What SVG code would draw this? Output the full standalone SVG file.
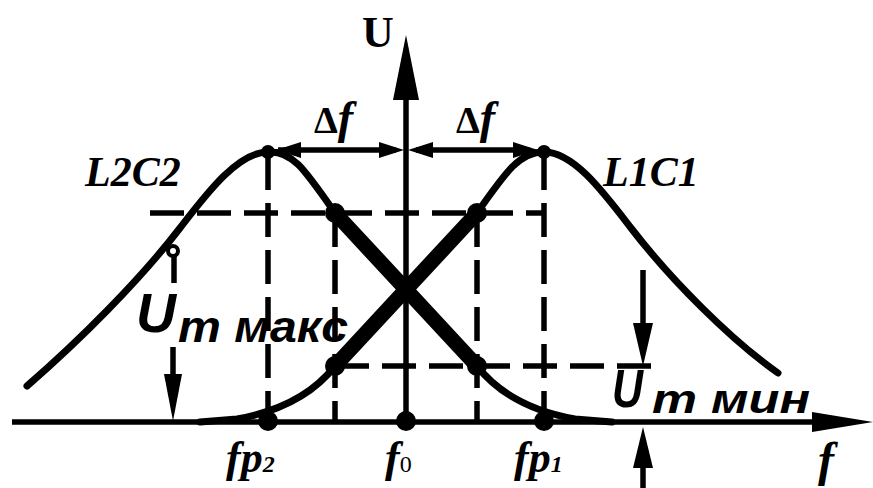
<svg xmlns="http://www.w3.org/2000/svg" width="873" height="488" viewBox="0 0 873 488">
<style>
.ax{stroke:#000;stroke-width:5.5;fill:none}
.crv{stroke:#000;stroke-width:7;fill:none;stroke-linecap:round;stroke-linejoin:round}
.thk{stroke:#000;stroke-width:15;fill:none;stroke-linecap:round}
.dsh{stroke:#000;stroke-width:5.5;fill:none;stroke-dasharray:34 13}
.dot{fill:#000}
.ah{fill:#000}
.lbl{font-family:"Liberation Serif","Times New Roman",serif;font-weight:bold;font-style:italic;fill:#000}
.stn{font-family:"Liberation Sans",Arial,sans-serif;font-weight:bold;font-style:italic;fill:#000}
</style>
<rect width="873" height="488" fill="#fff"/>
<g id="guides">
<line class="dsh" x1="150" y1="213" x2="544" y2="213"/>
<line class="dsh" x1="335" y1="366" x2="660" y2="366"/>
<line class="dsh" x1="268" y1="156" x2="268" y2="422"/>
<line class="dsh" x1="335" y1="213" x2="335" y2="422"/>
<line class="dsh" x1="477" y1="213" x2="477" y2="422"/>
<line class="dsh" x1="544" y1="156" x2="544" y2="422"/>
</g>
<g id="axes">
<line class="ax" x1="12" y1="422" x2="815" y2="422"/>
<polygon class="ah" points="873,422 812,412 812,432"/>
<line class="ax" x1="406" y1="95" x2="406" y2="422"/>
<polygon class="ah" points="406,35 393,100 419,100"/>
</g>
<g id="curve-L2C2">
<path class="crv" d="M27 386 C80 340 140 280 180 228 C207 193 238 152 268 152 C292 150 305 170 335 213 L477 366 C495 389 525 410 575 419 L612 422"/>
<line class="thk" x1="335" y1="213" x2="477" y2="366"/>
</g>
<g id="curve-L1C1">
<path class="crv" d="M200 422 L237 419 C287 410 317 389 335 366 L477 213 C507 170 520 152 544 152 C574 152 604 193 631 228 C671 280 731 340 778 373"/>
<line class="thk" x1="335" y1="366" x2="477" y2="213"/>
</g>
<g id="points">
<circle class="dot" cx="335" cy="213" r="10"/>
<circle class="dot" cx="477" cy="213" r="10"/>
<circle class="dot" cx="335" cy="366" r="10"/>
<circle class="dot" cx="477" cy="366" r="10"/>
<circle class="dot" cx="268" cy="421" r="10"/>
<circle class="dot" cx="406" cy="421" r="10"/>
<circle class="dot" cx="544" cy="421" r="10"/>
<circle cx="173" cy="251" r="5" fill="#fff" stroke="#000" stroke-width="4"/>
<circle cx="268" cy="152" r="7" class="dot"/>
<circle cx="544" cy="152" r="7" class="dot"/>
</g>
<g id="connectors">
<line class="ax" x1="278" y1="150" x2="396" y2="150"/>
<polygon class="ah" points="276,150 301,142 301,158"/>
<polygon class="ah" points="404,150 379,142 379,158"/>
<line class="ax" x1="416" y1="150" x2="530" y2="150"/>
<polygon class="ah" points="408,150 433,142 433,158"/>
<polygon class="ah" points="538,150 513,142 513,158"/>
<line class="ax" x1="174" y1="256" x2="174" y2="283"/>
<line class="ax" x1="173" y1="347" x2="173" y2="378"/>
<polygon class="ah" points="173,421 164,374 182,374"/>
<line class="ax" x1="643" y1="270" x2="643" y2="328"/>
<polygon class="ah" points="643,366 633,323 653,323"/>
<polygon class="ah" points="643,427 633,468 653,468"/>
<line class="ax" x1="643" y1="465" x2="643" y2="488"/>
</g>
<g id="labels">
<text x="362" y="47" font-family="Liberation Serif, serif" font-weight="bold" font-size="44">U</text>
<text x="314" y="133" font-family="Liberation Serif, serif" font-weight="bold" font-size="38">Δ<tspan font-style="italic" font-size="46">f</tspan></text>
<text x="456" y="133" font-family="Liberation Serif, serif" font-weight="bold" font-size="38">Δ<tspan font-style="italic" font-size="46">f</tspan></text>
<text class="lbl" x="85" y="186" font-size="42">L2C2</text>
<text class="lbl" x="603" y="186" font-size="42">L1C1</text>
<text class="lbl" x="226" y="472" font-size="44">fp<tspan font-size="24">2</tspan></text>
<text class="lbl" x="385" y="472" font-size="44">f<tspan font-style="normal" font-weight="normal" font-size="24">0</tspan></text>
<text class="lbl" x="514" y="472" font-size="44">fp<tspan font-size="24">1</tspan></text>
<text class="lbl" x="818" y="476" font-size="48">f</text>
<text class="stn" x="136" y="332" font-size="56" textLength="40" lengthAdjust="spacingAndGlyphs">U</text>
<text class="stn" x="178" y="342" font-size="44" textLength="170" lengthAdjust="spacingAndGlyphs">m макс</text>
<text class="stn" x="612" y="407" font-size="54" textLength="31" lengthAdjust="spacingAndGlyphs">U</text>
<text class="stn" x="652" y="413" font-size="40" textLength="158" lengthAdjust="spacingAndGlyphs">m мин</text>
</g>
</svg>
